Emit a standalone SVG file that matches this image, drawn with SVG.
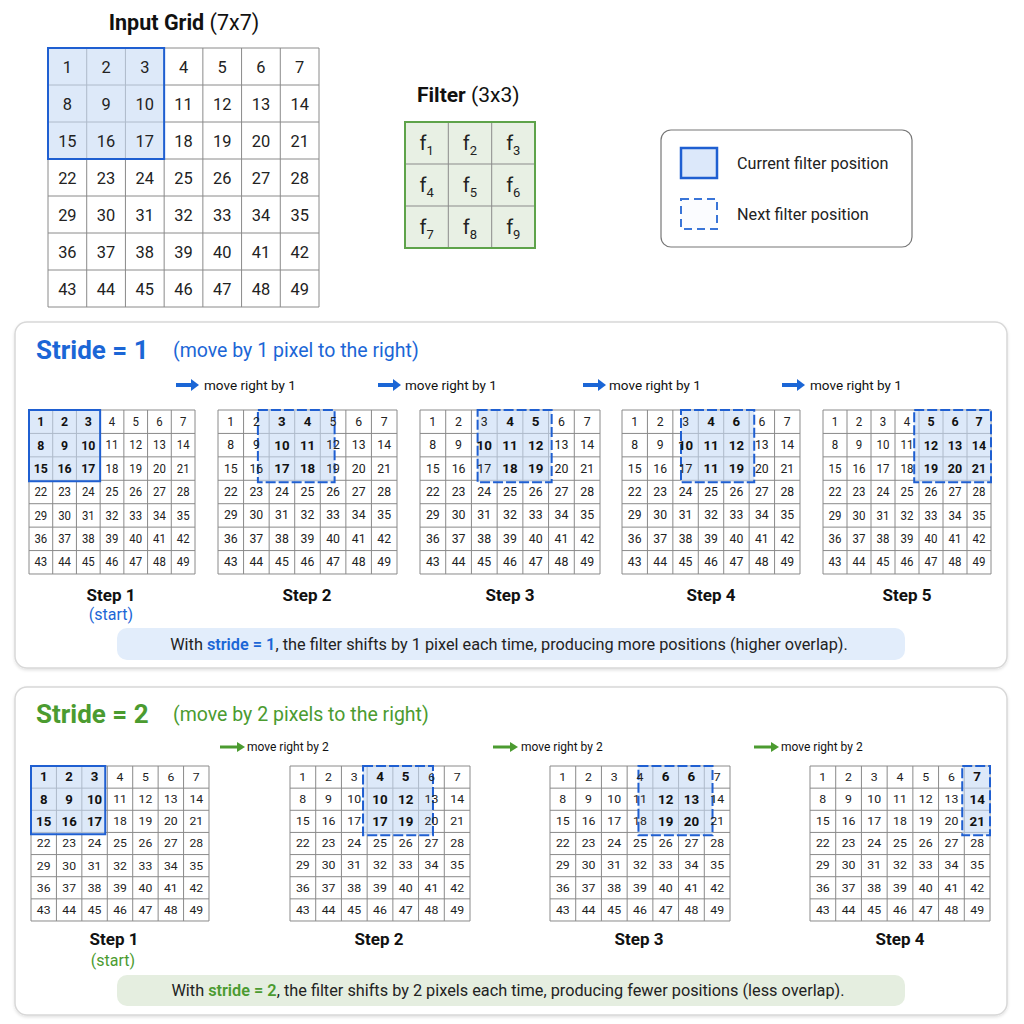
<svg xmlns="http://www.w3.org/2000/svg" xmlns:xlink="http://www.w3.org/1999/xlink" width="1024" height="1024" viewBox="0 0 1024 1024" font-family="Roboto, 'Liberation Sans', Arial, sans-serif">
<style>
text{font-family:Roboto,"Liberation Sans",Arial,sans-serif}
.panel{fill:#fff;stroke:#d8d8d8;stroke-width:1.5}
.hl{fill:#c6daf5;fill-opacity:0.6;stroke:#1f5fd1;stroke-width:2;vector-effect:non-scaling-stroke}
.hd{stroke-dasharray:10 3}
.b{font-weight:700;font-size:13px;fill:#111}
.step{font-size:17px;font-weight:700;text-anchor:middle;fill:#111}
.mv1{font-size:13.5px;fill:#111}
.mv2{font-size:12px;fill:#111}
.note{font-size:16.3px;text-anchor:middle;fill:#222}
.leg{font-size:16.2px;fill:#222}
</style>
<defs>
<filter id="sh" x="-5%" y="-5%" width="110%" height="115%"><feDropShadow dx="0" dy="1.5" stdDeviation="1.5" flood-color="#000" flood-opacity="0.12"/></filter>
<path id="gl" d="M0,0H175V161H0Z M25,0V161 M50,0V161 M75,0V161 M100,0V161 M125,0V161 M150,0V161 M0,23H175 M0,46H175 M0,69H175 M0,92H175 M0,115H175 M0,138H175" fill="none" stroke="#8a8a8a" stroke-width="1" vector-effect="non-scaling-stroke"/>
<rect id="bg" x="0" y="0" width="175" height="161" fill="#fff"/>
<g id="low" text-anchor="middle" dominant-baseline="central" fill="#222">
<text x="12.5" y="80.5">22</text><text x="37.5" y="80.5">23</text><text x="62.5" y="80.5">24</text><text x="87.5" y="80.5">25</text><text x="112.5" y="80.5">26</text><text x="137.5" y="80.5">27</text><text x="162.5" y="80.5">28</text>
<text x="12.5" y="103.5">29</text><text x="37.5" y="103.5">30</text><text x="62.5" y="103.5">31</text><text x="87.5" y="103.5">32</text><text x="112.5" y="103.5">33</text><text x="137.5" y="103.5">34</text><text x="162.5" y="103.5">35</text>
<text x="12.5" y="126.5">36</text><text x="37.5" y="126.5">37</text><text x="62.5" y="126.5">38</text><text x="87.5" y="126.5">39</text><text x="112.5" y="126.5">40</text><text x="137.5" y="126.5">41</text><text x="162.5" y="126.5">42</text>
<text x="12.5" y="149.5">43</text><text x="37.5" y="149.5">44</text><text x="62.5" y="149.5">45</text><text x="87.5" y="149.5">46</text><text x="112.5" y="149.5">47</text><text x="137.5" y="149.5">48</text><text x="162.5" y="149.5">49</text>
</g>
</defs>

<!-- Input grid -->
<g id="input-grid">
<text x="184" y="30" text-anchor="middle" font-size="21.5" fill="#111"><tspan font-weight="700">Input Grid</tspan> (7x7)</text>
<g transform="translate(48,48) scale(1.5486,1.6087)" font-size="10.6" text-anchor="middle" dominant-baseline="central" fill="#222">
<use href="#bg"/><use href="#gl"/>
<rect class="hl" x="0" y="0" width="75" height="69"/>
<text x="12.5" y="11.5">1</text><text x="37.5" y="11.5">2</text><text x="62.5" y="11.5">3</text><text x="87.5" y="11.5">4</text><text x="112.5" y="11.5">5</text><text x="137.5" y="11.5">6</text><text x="162.5" y="11.5">7</text>
<text x="12.5" y="34.5">8</text><text x="37.5" y="34.5">9</text><text x="62.5" y="34.5">10</text><text x="87.5" y="34.5">11</text><text x="112.5" y="34.5">12</text><text x="137.5" y="34.5">13</text><text x="162.5" y="34.5">14</text>
<text x="12.5" y="57.5">15</text><text x="37.5" y="57.5">16</text><text x="62.5" y="57.5">17</text><text x="87.5" y="57.5">18</text><text x="112.5" y="57.5">19</text><text x="137.5" y="57.5">20</text><text x="162.5" y="57.5">21</text>
<use href="#low"/>
</g>
</g>

<!-- Filter -->
<g id="filter">
<text x="417" y="102" font-size="21" fill="#111"><tspan font-weight="700">Filter</tspan> (3x3)</text>
<rect x="405" y="122" width="130" height="126" fill="#e8f0e4"/>
<path d="M448.3,122V248 M491.7,122V248 M405,164H535 M405,206H535" stroke="#8a8a8a" stroke-width="1" fill="none"/>
<rect x="405" y="122" width="130" height="126" fill="none" stroke="#5ea34a" stroke-width="2"/>
<g font-size="20" text-anchor="middle" fill="#222">
<text x="426.7" y="150">f<tspan font-size="13" dy="5">1</tspan></text>
<text x="470" y="150">f<tspan font-size="13" dy="5">2</tspan></text>
<text x="513.3" y="150">f<tspan font-size="13" dy="5">3</tspan></text>
<text x="426.7" y="192">f<tspan font-size="13" dy="5">4</tspan></text>
<text x="470" y="192">f<tspan font-size="13" dy="5">5</tspan></text>
<text x="513.3" y="192">f<tspan font-size="13" dy="5">6</tspan></text>
<text x="426.7" y="234">f<tspan font-size="13" dy="5">7</tspan></text>
<text x="470" y="234">f<tspan font-size="13" dy="5">8</tspan></text>
<text x="513.3" y="234">f<tspan font-size="13" dy="5">9</tspan></text>
</g>
</g>

<!-- Legend -->
<g id="legend">
<rect x="661" y="130" width="251" height="117" rx="10" fill="#fff" stroke="#777" stroke-width="1.2"/>
<rect x="681" y="148" width="36" height="30" fill="#dce8fa" stroke="#1f5fd1" stroke-width="2.5"/>
<rect x="681" y="199" width="36" height="30" fill="#fbfcff" stroke="#3a75d8" stroke-width="2" stroke-dasharray="8 5"/>
<text class="leg" x="737" y="169">Current filter position</text>
<text class="leg" x="737" y="220">Next filter position</text>
</g>

<!-- Stride 1 panel -->
<g id="stride1">
<rect class="panel" x="15" y="322" width="992" height="346" rx="12" filter="url(#sh)"/>
<text x="36" y="359" font-size="26" font-weight="700" fill="#1b66d6">Stride = 1</text>
<text x="173" y="357" font-size="19.5" fill="#1b66d6">(move by 1 pixel to the right)</text>
<text class="mv1" x="204" y="390">move right by 1</text>
<text class="mv1" x="405" y="390">move right by 1</text>
<text class="mv1" x="609" y="390">move right by 1</text>
<text class="mv1" x="810" y="390">move right by 1</text>

<g id="s1-step1" transform="translate(29,410) scale(0.9486,1.0186)" font-size="12" text-anchor="middle" dominant-baseline="central" fill="#222">
<use href="#bg"/><use href="#gl"/>
<rect class="hl" x="0" y="0" width="75" height="70"/>
<text class="b" x="12.5" y="11.5">1</text><text class="b" x="37.5" y="11.5">2</text><text class="b" x="62.5" y="11.5">3</text><text x="87.5" y="11.5">4</text><text x="112.5" y="11.5">5</text><text x="137.5" y="11.5">6</text><text x="162.5" y="11.5">7</text>
<text class="b" x="12.5" y="34.5">8</text><text class="b" x="37.5" y="34.5">9</text><text class="b" x="62.5" y="34.5">10</text><text x="87.5" y="34.5">11</text><text x="112.5" y="34.5">12</text><text x="137.5" y="34.5">13</text><text x="162.5" y="34.5">14</text>
<text class="b" x="12.5" y="57.5">15</text><text class="b" x="37.5" y="57.5">16</text><text class="b" x="62.5" y="57.5">17</text><text x="87.5" y="57.5">18</text><text x="112.5" y="57.5">19</text><text x="137.5" y="57.5">20</text><text x="162.5" y="57.5">21</text>
<use href="#low"/>
</g>
<g id="s1-step2" transform="translate(218,410) scale(1.0229,1.0186)" font-size="12" text-anchor="middle" dominant-baseline="central" fill="#222">
<use href="#bg"/><use href="#gl"/>
<rect class="hl hd" x="39" y="0" width="75" height="71"/>
<text x="12.5" y="11.5">1</text><text x="37.5" y="11.5">2</text><text class="b" x="62.5" y="11.5">3</text><text class="b" x="87.5" y="11.5">4</text><text x="112.5" y="11.5">5</text><text x="137.5" y="11.5">6</text><text x="162.5" y="11.5">7</text>
<text x="12.5" y="34.5">8</text><text x="37.5" y="34.5">9</text><text class="b" x="62.5" y="34.5">10</text><text class="b" x="87.5" y="34.5">11</text><text x="112.5" y="34.5">12</text><text x="137.5" y="34.5">13</text><text x="162.5" y="34.5">14</text>
<text x="12.5" y="57.5">15</text><text x="37.5" y="57.5">16</text><text class="b" x="62.5" y="57.5">17</text><text class="b" x="87.5" y="57.5">18</text><text x="112.5" y="57.5">19</text><text x="137.5" y="57.5">20</text><text x="162.5" y="57.5">21</text>
<use href="#low"/>
</g>
<g id="s1-step3" transform="translate(420,410) scale(1.0286,1.0186)" font-size="12" text-anchor="middle" dominant-baseline="central" fill="#222">
<use href="#bg"/><use href="#gl"/>
<rect class="hl hd" x="56" y="0" width="72" height="71"/>
<text x="12.5" y="11.5">1</text><text x="37.5" y="11.5">2</text><text x="62.5" y="11.5">3</text><text class="b" x="87.5" y="11.5">4</text><text class="b" x="112.5" y="11.5">5</text><text x="137.5" y="11.5">6</text><text x="162.5" y="11.5">7</text>
<text x="12.5" y="34.5">8</text><text x="37.5" y="34.5">9</text><text class="b" x="62.5" y="34.5">10</text><text class="b" x="87.5" y="34.5">11</text><text class="b" x="112.5" y="34.5">12</text><text x="137.5" y="34.5">13</text><text x="162.5" y="34.5">14</text>
<text x="12.5" y="57.5">15</text><text x="37.5" y="57.5">16</text><text x="62.5" y="57.5">17</text><text class="b" x="87.5" y="57.5">18</text><text class="b" x="112.5" y="57.5">19</text><text x="137.5" y="57.5">20</text><text x="162.5" y="57.5">21</text>
<use href="#low"/>
</g>
<g id="s1-step4" transform="translate(622,410) scale(1.0171,1.0186)" font-size="12" text-anchor="middle" dominant-baseline="central" fill="#222">
<use href="#bg"/><use href="#gl"/>
<rect class="hl hd" x="58" y="0" width="72" height="71"/>
<text x="12.5" y="11.5">1</text><text x="37.5" y="11.5">2</text><text x="62.5" y="11.5">3</text><text class="b" x="87.5" y="11.5">4</text><text class="b" x="112.5" y="11.5">6</text><text x="137.5" y="11.5">6</text><text x="162.5" y="11.5">7</text>
<text x="12.5" y="34.5">8</text><text x="37.5" y="34.5">9</text><text class="b" x="62.5" y="34.5">10</text><text class="b" x="87.5" y="34.5">11</text><text class="b" x="112.5" y="34.5">12</text><text x="137.5" y="34.5">13</text><text x="162.5" y="34.5">14</text>
<text x="12.5" y="57.5">15</text><text x="37.5" y="57.5">16</text><text x="62.5" y="57.5">17</text><text class="b" x="87.5" y="57.5">11</text><text class="b" x="112.5" y="57.5">19</text><text x="137.5" y="57.5">20</text><text x="162.5" y="57.5">21</text>
<use href="#low"/>
</g>
<g id="s1-step5" transform="translate(823,410) scale(0.96,1.0186)" font-size="12" text-anchor="middle" dominant-baseline="central" fill="#222">
<use href="#bg"/><use href="#gl"/>
<rect class="hl hd" x="95" y="0" width="80" height="71"/>
<text x="12.5" y="11.5">1</text><text x="37.5" y="11.5">2</text><text x="62.5" y="11.5">3</text><text x="87.5" y="11.5">4</text><text class="b" x="112.5" y="11.5">5</text><text class="b" x="137.5" y="11.5">6</text><text class="b" x="162.5" y="11.5">7</text>
<text x="12.5" y="34.5">8</text><text x="37.5" y="34.5">9</text><text x="62.5" y="34.5">10</text><text x="87.5" y="34.5">11</text><text class="b" x="112.5" y="34.5">12</text><text class="b" x="137.5" y="34.5">13</text><text class="b" x="162.5" y="34.5">14</text>
<text x="12.5" y="57.5">15</text><text x="37.5" y="57.5">16</text><text x="62.5" y="57.5">17</text><text x="87.5" y="57.5">18</text><text class="b" x="112.5" y="57.5">19</text><text class="b" x="137.5" y="57.5">20</text><text class="b" x="162.5" y="57.5">21</text>
<use href="#low"/>
</g>

<text class="step" x="111" y="601">Step 1</text>
<text x="111" y="620" font-size="16" text-anchor="middle" fill="#1b66d6">(start)</text>
<text class="step" x="307" y="601">Step 2</text>
<text class="step" x="510" y="601">Step 3</text>
<text class="step" x="711" y="601">Step 4</text>
<text class="step" x="907" y="601">Step 5</text>

<rect x="117" y="628" width="788" height="32" rx="10" fill="#e2edfb"/>
<text class="note" x="509" y="650">With <tspan fill="#1b66d6" font-weight="600">stride = 1</tspan>, the filter shifts by 1 pixel each time, producing more positions (higher overlap).</text>
</g>

<!-- Stride 2 panel -->
<g id="stride2">
<rect class="panel" x="15" y="687" width="992" height="328" rx="12" filter="url(#sh)"/>
<text x="36" y="723" font-size="26" font-weight="700" fill="#4b9b30">Stride = 2</text>
<text x="173" y="721" font-size="19.5" fill="#4b9b30">(move by 2 pixels to the right)</text>
<text class="mv2" x="247" y="751">move right by 2</text>
<text class="mv2" x="521" y="751">move right by 2</text>
<text class="mv2" x="781" y="751">move right by 2</text>

<g id="s2-step1" transform="translate(31,766) scale(1.0171,0.9627)" font-size="12" text-anchor="middle" dominant-baseline="central" fill="#222">
<use href="#bg"/><use href="#gl"/>
<rect class="hl" x="0" y="0" width="73" height="71"/>
<text class="b" x="12.5" y="11.5">1</text><text class="b" x="37.5" y="11.5">2</text><text class="b" x="62.5" y="11.5">3</text><text x="87.5" y="11.5">4</text><text x="112.5" y="11.5">5</text><text x="137.5" y="11.5">6</text><text x="162.5" y="11.5">7</text>
<text class="b" x="12.5" y="34.5">8</text><text class="b" x="37.5" y="34.5">9</text><text class="b" x="62.5" y="34.5">10</text><text x="87.5" y="34.5">11</text><text x="112.5" y="34.5">12</text><text x="137.5" y="34.5">13</text><text x="162.5" y="34.5">14</text>
<text class="b" x="12.5" y="57.5">15</text><text class="b" x="37.5" y="57.5">16</text><text class="b" x="62.5" y="57.5">17</text><text x="87.5" y="57.5">18</text><text x="112.5" y="57.5">19</text><text x="137.5" y="57.5">20</text><text x="162.5" y="57.5">21</text>
<use href="#low"/>
</g>
<g id="s2-step2" transform="translate(290,766) scale(1.0286,0.9627)" font-size="12" text-anchor="middle" dominant-baseline="central" fill="#222">
<use href="#bg"/><use href="#gl"/>
<rect class="hl hd" x="71" y="0" width="68" height="72"/>
<text x="12.5" y="11.5">1</text><text x="37.5" y="11.5">2</text><text x="62.5" y="11.5">3</text><text class="b" x="87.5" y="11.5">4</text><text class="b" x="112.5" y="11.5">5</text><text x="137.5" y="11.5">6</text><text x="162.5" y="11.5">7</text>
<text x="12.5" y="34.5">8</text><text x="37.5" y="34.5">9</text><text x="62.5" y="34.5">10</text><text class="b" x="87.5" y="34.5">10</text><text class="b" x="112.5" y="34.5">12</text><text x="137.5" y="34.5">13</text><text x="162.5" y="34.5">14</text>
<text x="12.5" y="57.5">15</text><text x="37.5" y="57.5">16</text><text x="62.5" y="57.5">17</text><text class="b" x="87.5" y="57.5">17</text><text class="b" x="112.5" y="57.5">19</text><text x="137.5" y="57.5">20</text><text x="162.5" y="57.5">21</text>
<use href="#low"/>
</g>
<g id="s2-step3" transform="translate(550,766) scale(1.0286,0.9627)" font-size="12" text-anchor="middle" dominant-baseline="central" fill="#222">
<use href="#bg"/><use href="#gl"/>
<rect class="hl hd" x="86" y="0" width="72" height="72"/>
<text x="12.5" y="11.5">1</text><text x="37.5" y="11.5">2</text><text x="62.5" y="11.5">3</text><text x="87.5" y="11.5">4</text><text class="b" x="112.5" y="11.5">6</text><text class="b" x="137.5" y="11.5">6</text><text x="162.5" y="11.5">7</text>
<text x="12.5" y="34.5">8</text><text x="37.5" y="34.5">9</text><text x="62.5" y="34.5">10</text><text x="87.5" y="34.5">11</text><text class="b" x="112.5" y="34.5">12</text><text class="b" x="137.5" y="34.5">13</text><text x="162.5" y="34.5">14</text>
<text x="12.5" y="57.5">15</text><text x="37.5" y="57.5">16</text><text x="62.5" y="57.5">17</text><text x="87.5" y="57.5">18</text><text class="b" x="112.5" y="57.5">19</text><text class="b" x="137.5" y="57.5">20</text><text x="162.5" y="57.5">21</text>
<use href="#low"/>
</g>
<g id="s2-step4" transform="translate(810,766) scale(1.0286,0.9627)" font-size="12" text-anchor="middle" dominant-baseline="central" fill="#222">
<use href="#bg"/><use href="#gl"/>
<rect class="hl hd" x="148" y="0" width="27" height="72"/>
<text x="12.5" y="11.5">1</text><text x="37.5" y="11.5">2</text><text x="62.5" y="11.5">3</text><text x="87.5" y="11.5">4</text><text x="112.5" y="11.5">5</text><text x="137.5" y="11.5">6</text><text class="b" x="162.5" y="11.5">7</text>
<text x="12.5" y="34.5">8</text><text x="37.5" y="34.5">9</text><text x="62.5" y="34.5">10</text><text x="87.5" y="34.5">11</text><text x="112.5" y="34.5">12</text><text x="137.5" y="34.5">13</text><text class="b" x="162.5" y="34.5">14</text>
<text x="12.5" y="57.5">15</text><text x="37.5" y="57.5">16</text><text x="62.5" y="57.5">17</text><text x="87.5" y="57.5">18</text><text x="112.5" y="57.5">19</text><text x="137.5" y="57.5">20</text><text class="b" x="162.5" y="57.5">21</text>
<use href="#low"/>
</g>

<text class="step" x="114" y="945">Step 1</text>
<text x="113" y="966" font-size="16" text-anchor="middle" fill="#4b9b30">(start)</text>
<text class="step" x="379" y="945">Step 2</text>
<text class="step" x="639" y="945">Step 3</text>
<text class="step" x="900" y="945">Step 4</text>

<rect x="117" y="975" width="788" height="31" rx="10" fill="#e5eee0"/>
<text class="note" x="508" y="996">With <tspan fill="#4b9b30" font-weight="600">stride = 2</tspan>, the filter shifts by 2 pixels each time, producing fewer positions (less overlap).</text>
</g>

<!-- Connectors (move arrows) -->
<g id="connectors">
<g stroke="#1b66d6" stroke-width="4" fill="#1b66d6">
<path d="M176,385H192"/><path d="M378,385H394"/><path d="M583,385H599"/><path d="M782,385H798"/>
</g>
<g fill="#1b66d6">
<polygon points="191,379 199,385 191,391"/><polygon points="393,379 401,385 393,391"/><polygon points="598,379 606,385 598,391"/><polygon points="797,379 805,385 797,391"/>
</g>
<g stroke="#4b9b30" stroke-width="3">
<path d="M220,747H238"/><path d="M493,747H511"/><path d="M754,747H772"/>
</g>
<g fill="#4b9b30">
<polygon points="237,742 245,747 237,752"/><polygon points="510,742 518,747 510,752"/><polygon points="771,742 779,747 771,752"/>
</g>
</g>
</svg>
